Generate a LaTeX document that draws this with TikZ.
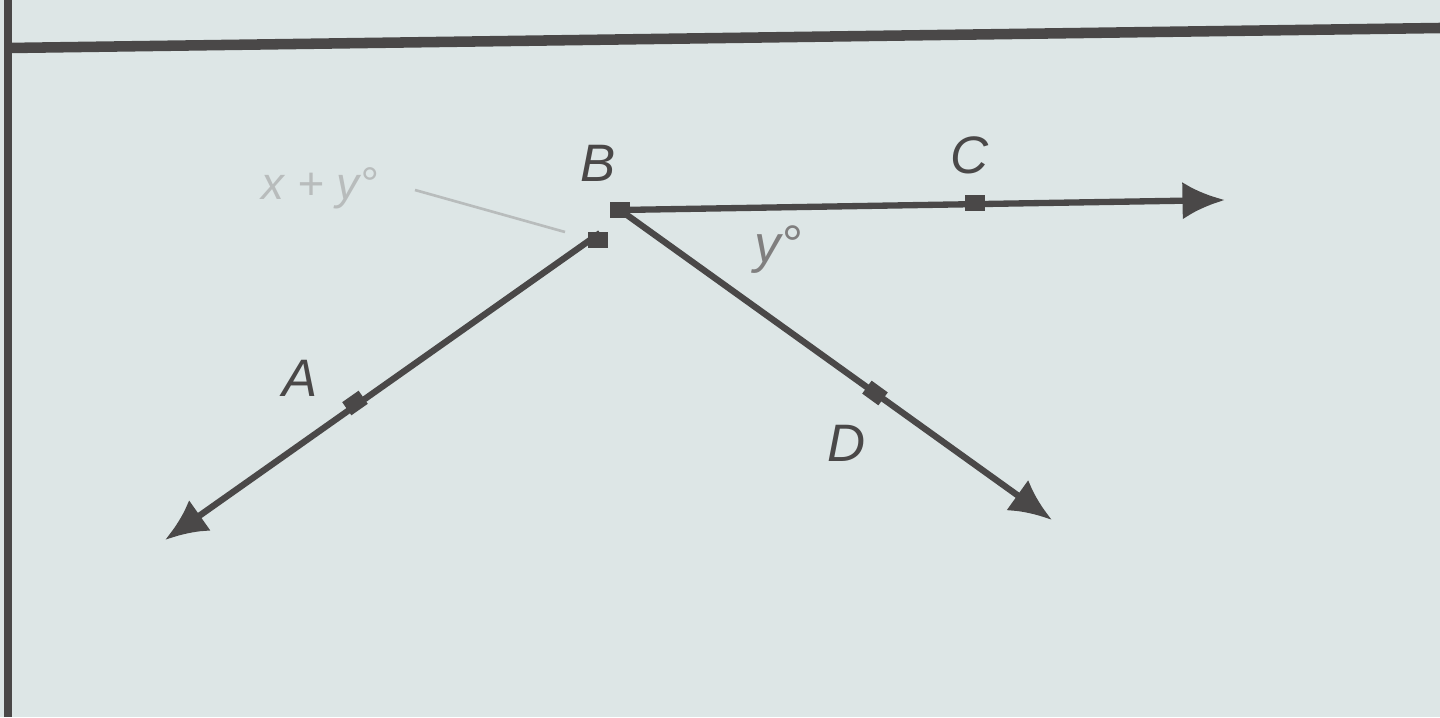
\documentclass[tikz,border=0pt]{standalone}
\usepackage{fontspec}
\setmainfont{Liberation Sans}
\usetikzlibrary{arrows.meta}
\definecolor{bg}{HTML}{DDE6E6}
\definecolor{ink}{HTML}{4A4848}
\definecolor{faint}{HTML}{B8BCBC}
\begin{document}
\begin{tikzpicture}[x=0.02cm,y=-0.02cm,
  ray/.style={draw=ink,line width=3.6pt,-{Latex[length=0.85cm,width=0.75cm]}},
  seg/.style={draw=ink,line width=3.6pt},
  marker/.style={fill=ink,minimum width=0.4cm,minimum height=0.32cm,inner sep=0pt},
  lbl/.style={text=ink,font=\fontsize{30}{32}\selectfont\itshape},
  fainttext/.style={text=faint,font=\fontsize{26}{28}\selectfont\itshape}]
\fill[bg] (0,0) rectangle (1440,717);
\useasboundingbox (0,0) rectangle (1440,717);
% frame lines
\draw[ink,line width=5pt] (8,0) -- (8,717);
\draw[ink,line width=6pt] (8,48) -- (1440,28);
% points
\coordinate (B) at (620,210);
\coordinate (Bs) at (600,233);
\coordinate (Ce) at (1225,200);
\coordinate (Ae) at (165,540);
\coordinate (De) at (1052,520);
\node[marker] (mB) at (620,210) {};
\node[marker] (mB2) at (598,240) {};
\node[marker] (mC) at (975,203) {};
\node[marker,rotate=35] (mA) at (355,403) {};
\node[marker,rotate=-36] (mD) at (875,393) {};
% rays
\draw[ray] (B) -- (Ce);
\draw[ray] (Bs) -- (Ae);
\draw[ray] (B) -- (De);
% labels
\node[lbl] (lB) at (598,163) {B};
\node[lbl] (lC) at (970,155) {C};
\node[lbl] (lA) at (300,378) {A};
\node[lbl] (lD) at (847,443) {D};
\node[lbl,text=ink!70] (ly) at (778,250) {y°};
% faint label and leader
\node[fainttext] (lxy) at (320,188) {x + y°};
\coordinate (fl) at (565,232);
\draw[faint,line width=1.5pt] (415,190) -- (fl);
\end{tikzpicture}
\end{document}
